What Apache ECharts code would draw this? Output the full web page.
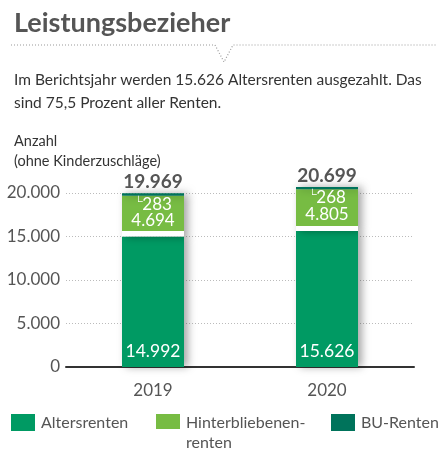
<!DOCTYPE html>
<html>
<head>
<meta charset="utf-8">
<script src="https://cdn.jsdelivr.net/npm/echarts@6/dist/echarts.min.js"></script>
<style>
html, body { margin: 0; padding: 0; background: #fff; }
#main { width: 448px; height: 464px; }
</style>
</head>
<body>
<div id="main"></div>
<script>
// Daten
var years = ['2019', '2020'];
var altersrenten = [14992, 15626];
var hinterbliebenen = [4694, 4805];
var buRenten = [283, 268];
var yTicks = [0, 5000, 10000, 15000, 20000];

var totals = years.map(function (y, i) {
    return altersrenten[i] + hinterbliebenen[i] + buRenten[i];
});

var FONT = 'Lato, "Noto Sans", sans-serif';
var GREY = '#555';
var C_ALTERS = '#009a63';
var C_HINTER = '#77bc43';
var C_BU = '#00735b';

// 15626 -> "15.626"
function fmt(v) {
    return String(v).replace(/\B(?=(\d{3})+(?!\d))/g, '.');
}

var shadow = {
    shadowColor: 'rgba(0,0,0,0.35)',
    shadowBlur: 8,
    shadowOffsetX: 4
};

var myChart = echarts.init(document.getElementById('main'));

myChart.setOption({
    animation: false,
    textStyle: { fontFamily: FONT },
    title: [{
        text: 'Leistungsbezieher',
        left: 9, top: 5,
        textStyle: { fontFamily: FONT, fontSize: 27, fontWeight: 'bold', color: GREY }
    }, {
        text: 'Im Berichtsjahr werden 15.626 Altersrenten ausgezahlt. Das\nsind 75,5 Prozent aller Renten.',
        left: 9, top: 63,
        textStyle: { fontFamily: FONT, fontSize: 15.5, fontWeight: 'normal', color: '#333', lineHeight: 23 }
    }, {
        text: 'Anzahl\n(ohne Kinderzuschläge)',
        left: 9, top: 126,
        textStyle: { fontFamily: FONT, fontSize: 14.5, fontWeight: 'normal', color: '#333', lineHeight: 20 }
    }],
    graphic: [{
        type: 'polyline',
        shape: { points: [[11, 45], [215, 45], [224, 62], [233, 45], [436, 45]] },
        style: { stroke: '#999', lineWidth: 1.2, lineDash: [1, 2], fill: null }
    }, {
        type: 'text',
        left: 186, top: 435,
        style: { text: 'renten', fontFamily: FONT, fontSize: 16, fill: GREY }
    }],
    legend: [{
        data: ['Altersrenten'], left: 11, top: 414
    }, {
        data: ['Hinterbliebenenrenten'], left: 156, top: 414,
        formatter: function () { return 'Hinterbliebenen-'; }
    }, {
        data: ['BU-Renten'], left: 331, top: 414
    }].map(function (l) {
        l.itemWidth = 24;
        l.itemHeight = 17;
        l.padding = 0;
        l.icon = 'rect';
        l.selectedMode = false;
        l.textStyle = { fontFamily: FONT, fontSize: 16, color: GREY, padding: [0, 0, 0, 1] };
        return l;
    }),
    grid: { left: 66, right: 34, top: 193, bottom: 97 },
    xAxis: {
        type: 'category',
        data: years,
        axisLine: { lineStyle: { color: '#333', width: 2 } },
        axisTick: { show: false },
        axisLabel: { color: GREY, fontSize: 17, margin: 15 }
    },
    yAxis: {
        type: 'value',
        min: 0,
        max: 20000,
        interval: 5000,
        axisLine: { show: false },
        axisTick: { show: false },
        axisLabel: {
            color: GREY, fontSize: 17, margin: 6,
            formatter: function (v) { return yTicks.indexOf(v) >= 0 ? fmt(v) : ''; }
        },
        splitLine: { lineStyle: { color: '#bbb', type: [1, 2] } }
    },
    series: [{
        name: 'Altersrenten',
        type: 'bar',
        stack: 'renten',
        barWidth: 62,
        clip: false,
        data: altersrenten,
        itemStyle: Object.assign({ color: C_ALTERS }, shadow),
        label: {
            show: true, position: 'insideBottom', distance: 7,
            color: '#fff', fontSize: 17.5, formatter: function (p) { return fmt(p.value); }
        }
    }, {
        name: 'Hinterbliebenenrenten',
        type: 'bar',
        stack: 'renten',
        clip: false,
        data: hinterbliebenen,
        itemStyle: Object.assign({
            // weisser Trennstreifen unten im Segment
            color: {
                type: 'linear', x: 0, y: 0, x2: 0, y2: 1,
                colorStops: [
                    { offset: 0, color: C_HINTER },
                    { offset: 0.875, color: C_HINTER },
                    { offset: 0.875, color: '#fff' },
                    { offset: 1, color: '#fff' }
                ]
            }
        }, shadow),
        label: {
            show: true, position: 'insideBottom', distance: 8,
            color: '#fff', fontSize: 17, formatter: function (p) { return fmt(p.value); }
        }
    }, {
        name: 'BU-Renten',
        type: 'bar',
        stack: 'renten',
        clip: false,
        data: buRenten,
        itemStyle: Object.assign({ color: C_BU }, shadow),
        label: {
            show: true, position: 'bottom', distance: 0,
            color: '#fff', fontSize: 17,
            formatter: function (p) { return '{c|\u2514}' + p.value; },
            rich: { c: { fontSize: 11, color: '#fff', verticalAlign: 'top', padding: [0, 0, 6, 0] } }
        }
    }, {
        name: 'Summe',
        type: 'scatter',
        symbolSize: 0,
        clip: false,
        data: totals,
        silent: true,
        itemStyle: { opacity: 1 },
        label: {
            show: true, position: 'top', distance: 2,
            color: GREY, fontSize: 19, fontWeight: 'bold',
            formatter: function (p) { return fmt(p.value); }
        }
    }]
});
</script>
</body>
</html>
